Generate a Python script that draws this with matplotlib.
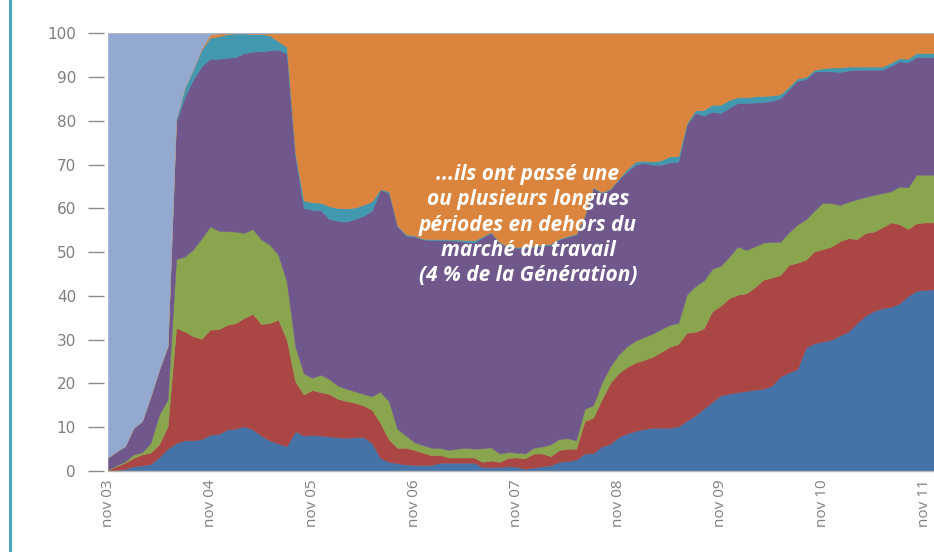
import numpy as np
import matplotlib
matplotlib.use("Agg")
import matplotlib.pyplot as plt
from matplotlib.lines import Line2D

# month index 0 = nov 03 ... 97 = dec 11 (cumulative %, stacked from the bottom)
months = np.arange(98)
tick_months = [0, 12, 24, 36, 48, 60, 72, 84, 96]
tick_labels = ["nov 03", "nov 04", "nov 05", "nov 06", "nov 07",
               "nov 08", "nov 09", "nov 10", "nov 11"]

top_blue = [0.0, 0.2, 0.5, 1.1, 1.3, 1.6, 3.2, 5.1, 6.4, 7.0,
            7.0, 7.3, 8.3, 8.5, 9.5, 9.7, 10.2, 9.5, 8.1, 7.0,
            6.3, 5.7, 9.1, 8.1, 8.2, 8.1, 7.9, 7.7, 7.6, 7.7,
            7.8, 6.4, 3.0, 2.1, 1.8, 1.5, 1.4, 1.4, 1.4, 1.9,
            1.9, 1.9, 1.9, 1.9, 0.9, 0.9, 0.9, 1.1, 1.0, 0.5,
            0.8, 1.1, 1.3, 2.1, 2.3, 2.6, 4.0, 4.1, 5.6, 6.2,
            7.8, 8.6, 9.2, 9.6, 9.9, 9.9, 9.9, 10.2, 11.5, 12.7,
            14.3, 15.8, 17.3, 17.7, 18.0, 18.3, 18.6, 18.8, 19.5, 21.6,
            22.5, 23.3, 28.2, 29.2, 29.6, 30.0, 31.0, 31.9, 33.8, 35.5,
            36.6, 37.2, 37.5, 38.3, 40.0, 41.2, 41.4, 41.5]

top_red = [0.2, 1.1, 1.9, 3.0, 3.8, 4.2, 6.1, 10.2, 32.7, 31.9,
           30.8, 30.2, 32.3, 32.4, 33.4, 33.8, 35.0, 35.9, 33.6, 33.8,
           34.6, 30.0, 20.5, 17.5, 18.5, 18.0, 17.6, 16.5, 16.0, 15.6,
           15.0, 14.0, 11.0, 7.2, 5.3, 5.3, 4.8, 4.2, 3.6, 3.7,
           3.1, 3.1, 3.1, 3.1, 2.1, 2.4, 2.1, 3.0, 3.1, 2.9,
           4.0, 4.0, 3.4, 4.8, 5.1, 5.1, 11.4, 12.2, 16.3, 20.1,
           22.4, 23.8, 24.8, 25.4, 26.1, 27.2, 28.4, 29.0, 31.6, 31.8,
           32.6, 36.5, 37.8, 39.5, 40.3, 40.6, 42.0, 43.7, 44.2, 44.8,
           47.1, 47.6, 48.3, 50.2, 50.7, 51.3, 52.5, 53.2, 53.0, 54.4,
           54.7, 55.7, 56.8, 56.4, 55.3, 56.6, 56.8, 56.8]

top_green = [0.3, 1.3, 2.2, 3.8, 4.3, 6.4, 12.9, 16.3, 48.4, 49.0,
             50.6, 53.2, 55.9, 54.9, 54.8, 54.7, 54.4, 55.3, 52.9, 51.7,
             49.4, 43.3, 28.5, 22.3, 21.3, 22.0, 21.0, 19.5, 18.8, 18.2,
             17.6, 17.1, 18.1, 15.9, 9.6, 8.1, 6.6, 5.9, 5.3, 5.3,
             4.8, 5.1, 5.3, 5.1, 5.2, 5.4, 4.0, 4.3, 4.2, 4.0,
             5.3, 5.6, 6.1, 7.3, 7.5, 7.0, 14.2, 15.0, 20.1, 23.9,
             26.6, 28.5, 29.8, 30.6, 31.4, 32.4, 33.4, 33.8, 40.3, 42.2,
             43.5, 46.2, 46.9, 49.0, 51.3, 50.5, 51.3, 52.2, 52.3, 52.4,
             54.5, 56.3, 57.5, 59.5, 61.3, 61.2, 60.8, 61.5, 62.1, 62.6,
             63.1, 63.5, 63.9, 65.0, 64.8, 67.7, 67.7, 67.7]

top_purple = [3.1, 4.5, 5.7, 9.9, 11.4, 17.1, 23.2, 28.5, 79.8, 85.5,
              89.5, 92.5, 94.2, 94.2, 94.4, 94.6, 95.5, 95.8, 95.9, 96.1,
              96.3, 95.4, 72.0, 60.1, 59.7, 59.6, 57.6, 57.2, 57.0, 57.6,
              58.3, 59.5, 64.3, 63.5, 55.9, 53.8, 53.6, 52.9, 52.8, 52.8,
              52.7, 52.6, 52.4, 52.2, 53.4, 54.4, 52.1, 51.2, 51.0, 51.0,
              51.2, 51.5, 51.7, 52.9, 53.5, 54.0, 58.2, 64.7, 63.5, 64.3,
              66.6, 68.5, 70.0, 70.4, 70.0, 70.0, 70.5, 70.7, 79.1, 81.8,
              81.2, 82.1, 81.8, 83.0, 84.1, 84.1, 84.2, 84.3, 84.6, 85.2,
              87.2, 89.2, 89.5, 91.3, 91.3, 91.3, 91.2, 91.5, 91.7, 91.7,
              91.7, 91.7, 92.6, 93.6, 93.4, 94.6, 94.6, 94.6]

top_teal = [3.1, 4.5, 5.7, 9.9, 11.4, 17.1, 23.2, 28.5, 80.5, 87.5,
            91.8, 96.3, 99.0, 99.3, 99.8, 100.0, 100.0, 99.8, 99.9, 99.5,
            98.2, 96.9, 72.8, 61.8, 61.4, 61.3, 60.5, 60.1, 60.0, 60.2,
            60.8, 61.6, 64.4, 63.9, 56.1, 54.1, 53.8, 53.1, 53.0, 53.0,
            52.9, 52.9, 52.8, 52.7, 53.6, 54.6, 52.3, 51.4, 51.2, 51.2,
            51.4, 51.7, 51.9, 53.1, 53.7, 54.2, 58.4, 64.9, 63.7, 64.5,
            66.8, 69.0, 70.7, 70.9, 70.7, 71.0, 71.9, 71.9, 79.5, 82.4,
            82.5, 83.7, 83.7, 84.8, 85.4, 85.4, 85.6, 85.7, 85.8, 86.1,
            87.8, 89.7, 90.0, 91.7, 92.0, 92.2, 92.2, 92.4, 92.4, 92.4,
            92.4, 92.4, 93.3, 94.3, 94.2, 95.5, 95.5, 95.5]

top_orange = [3.1, 4.5, 5.7, 9.9, 11.4, 17.1, 23.2, 28.5, 80.5, 87.5,
              91.8, 96.6, 99.7] + [100.0] * 85

top_lightblue = [100.0] * 98

colors = ["#4572A7", "#AA4643", "#89A54E", "#70588C", "#4198AF", "#DB843D", "#93A9CF"]

note = ("...ils ont passé une\nou plusieurs longues\npériodes en dehors du\n"
        "marché du travail\n(4 % de la Génération)")

fig = plt.figure(figsize=(9.34, 5.52), dpi=100)
ax = fig.add_axes([108 / 934, 81 / 552, 825.5 / 934, 437.7 / 552])

tops = [top_blue, top_red, top_green, top_purple, top_teal, top_orange, top_lightblue]
lower = np.zeros(len(months))
for top, c in zip(tops, colors):
    top = np.array(top)
    ax.fill_between(months, lower, top, color=c, linewidth=0.4, edgecolor=c)
    lower = top

ax.axhline(100, color="#AEB4C2", lw=1.2)

ax.set_xlim(0, 97)
ax.set_ylim(0, 100)
ax.set_yticks(range(0, 101, 10))
ax.set_xticks(tick_months)
ax.set_xticklabels(tick_labels, rotation=90, fontsize=11, color="#7F7F7F", family="Open Sans")
for lab in ax.get_yticklabels():
    lab.set_family("Open Sans")
ax.tick_params(axis="y", length=11.5, width=1, color="#8C8C8C", labelcolor="#7F7F7F",
               labelsize=11, pad=8.5)
ax.tick_params(axis="x", length=0, pad=6)

for side in ["top", "right", "left"]:
    ax.spines[side].set_visible(False)
ax.spines["left"].set_position(("outward", 3))
ax.spines["bottom"].set_color("#B8B8B8")
ax.spines["bottom"].set_linewidth(1)

ax.text(49.35, 56.2, note, color="white", ha="center", va="center",
        fontsize=15, fontweight="bold", style="italic", family="Open Sans",
        linespacing=1.26)

fig.add_artist(Line2D([10 / 934, 10 / 934], [0, 1], transform=fig.transFigure,
                      color="#4AA5BD", lw=2.2))

fig.savefig("out.png", dpi=100)
